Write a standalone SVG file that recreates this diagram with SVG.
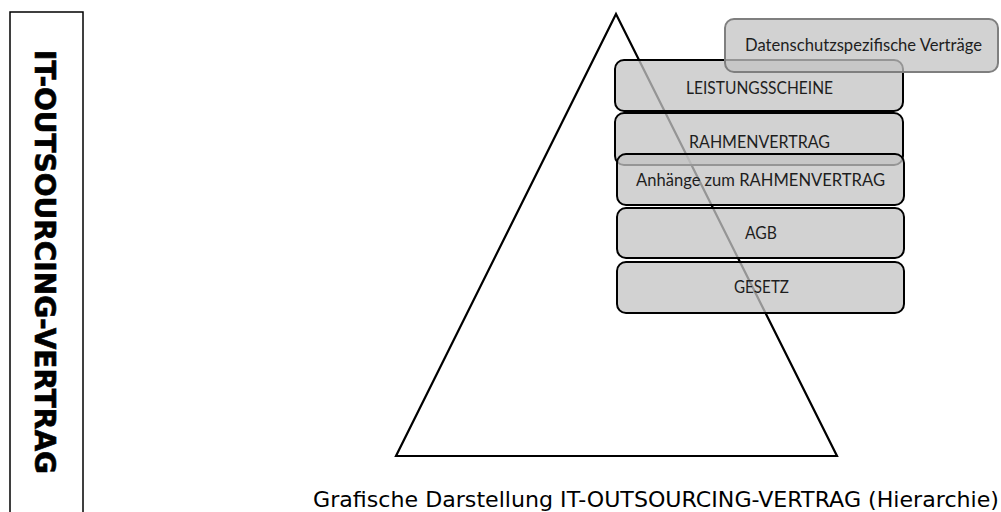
<svg xmlns="http://www.w3.org/2000/svg" width="1001" height="512" viewBox="0 0 1001 512">
<style>
.box{fill:#c4c4c4;fill-opacity:0.76;stroke:#000;stroke-width:2}
.dbox{fill:#c4c4c4;fill-opacity:0.76;stroke:#7f7f7f;stroke-width:2}
.lbl{font-family:Lato,"Liberation Sans",sans-serif;font-size:16.5px;fill:#1e1e1e;text-anchor:middle}
</style>
<rect width="1001" height="512" fill="#fff"/>
<g id="sidebar">
<rect x="10" y="12" width="73" height="510" fill="none" stroke="#000" stroke-width="1.5"/>
<text transform="translate(35,50) rotate(90)" x="0" y="0" font-family="'DejaVu Sans',Verdana,sans-serif" font-weight="bold" font-size="27.5" textLength="424" lengthAdjust="spacingAndGlyphs" fill="#000" stroke="#000" stroke-width="0.6">IT-OUTSOURCING-VERTRAG</text>
</g>
<g id="pyramid">
<polygon points="616,14 837,456 396,456" fill="none" stroke="#000" stroke-width="2.2" stroke-linejoin="miter"/>
</g>
<g id="connectors"></g>
<g id="leistungsscheine">
<rect class="box" x="615" y="60" width="288" height="51" rx="9"/>
<text class="lbl" x="759.5" y="94" textLength="147" lengthAdjust="spacingAndGlyphs">LEISTUNGSSCHEINE</text>
</g>
<g id="rahmenvertrag">
<rect class="box" x="615" y="113" width="288" height="52" rx="9"/>
<text class="lbl" x="759.5" y="148" textLength="141" lengthAdjust="spacingAndGlyphs">RAHMENVERTRAG</text>
</g>
<g id="anhaenge">
<rect class="box" x="617" y="154" width="287" height="51" rx="9"/>
<text class="lbl" x="760.5" y="186" textLength="249" lengthAdjust="spacingAndGlyphs">Anhänge zum RAHMENVERTRAG</text>
</g>
<g id="agb">
<rect class="box" x="617" y="208" width="287" height="50" rx="9"/>
<text class="lbl" x="761" y="239" textLength="32" lengthAdjust="spacingAndGlyphs">AGB</text>
</g>
<g id="gesetz">
<rect class="box" x="617" y="262" width="287" height="51" rx="9"/>
<text class="lbl" x="761.5" y="293" textLength="55" lengthAdjust="spacingAndGlyphs">GESETZ</text>
</g>
<g id="datenschutz">
<rect class="dbox" x="725" y="19" width="273" height="53" rx="9"/>
<text class="lbl" x="863.5" y="51" textLength="237" lengthAdjust="spacingAndGlyphs">Datenschutzspezifische Verträge</text>
</g>
<g id="caption">
<text x="313" y="507" font-family="'DejaVu Sans',Verdana,sans-serif" font-size="21.5" textLength="686" lengthAdjust="spacingAndGlyphs" fill="#000">Grafische Darstellung IT-OUTSOURCING-VERTRAG (Hierarchie)</text>
</g>
</svg>
